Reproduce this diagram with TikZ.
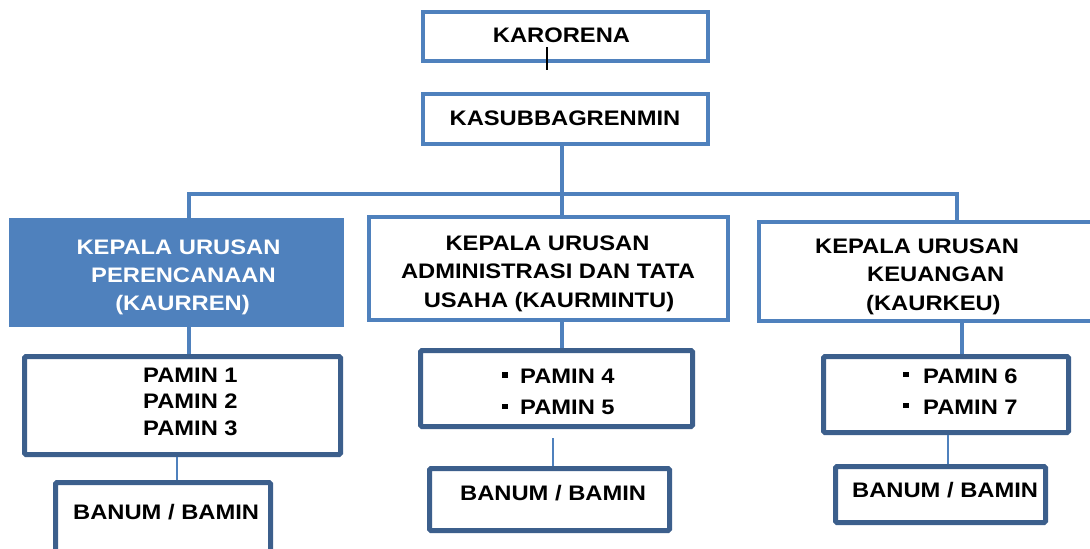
\documentclass[tikz,border=0pt]{standalone}
\usepackage{fontspec}
\setmainfont{Liberation Sans}[FakeStretch=1.13]
\definecolor{lblue}{HTML}{4F81BD}
\definecolor{dblue}{HTML}{3C5F8C}
\tikzset{
  box/.style={draw=lblue, line width=4pt, fill=white, inner sep=0pt},
  pbox/.style={draw=dblue, line width=5pt, fill=white, inner sep=0pt, rounded corners=1.5pt},
  fbox/.style={fill=lblue, inner sep=0pt},
  txt/.style={inner sep=0pt, font=\fontsize{21}{28}\selectfont\bfseries, text=black},
  wtxt/.style={txt, text=white},
  conn/.style={draw=lblue, line width=4pt},
  thin/.style={draw=lblue, line width=2.8pt},
  sq/.style={fill=black, inner sep=0pt, minimum size=5.5pt}
}
\begin{document}
\begin{tikzpicture}[x=1pt, y=-1pt]
\path[use as bounding box, clip] (0,0) rectangle (1090,549);
\fill[white] (0,0) rectangle (1090,549);

% junction coordinates
\coordinate (jl) at (189,194);
\coordinate (jm) at (562,194);
\coordinate (jr) at (957,194);

% boxes
\node[box, minimum width=285pt, minimum height=49pt] (karorena) at (565.5,36.5) {};
\node[box, minimum width=285pt, minimum height=50pt] (kasub) at (565.5,119) {};
\node[fbox, minimum width=335pt, minimum height=109pt] (kaurren) at (176.5,272.5) {};
\node[box, minimum width=359pt, minimum height=103pt] (kaurmintu) at (548.5,268.5) {};
\node[box, minimum width=351pt, minimum height=99pt] (kaurkeu) at (934.5,271.5) {};
\node[pbox, minimum width=316pt, minimum height=98pt] (pamin1) at (182.5,405.5) {};
\node[pbox, minimum width=272pt, minimum height=76pt] (pamin2) at (556.5,388.5) {};
\node[pbox, minimum width=245pt, minimum height=76pt] (pamin3) at (946,394.5) {};
\node[pbox, minimum width=215pt, minimum height=77.5pt] (banum1) at (163,521.25) {};
\node[pbox, minimum width=240pt, minimum height=62pt] (banum2) at (549.5,499.5) {};
\node[pbox, minimum width=210pt, minimum height=56pt] (banum3) at (940.5,494.5) {};

% connectors
\draw[conn] (kasub.south -| jm) -- (jm);
\draw[conn] (kaurren.north -| jl) |- (jr) -- (kaurkeu.north -| jr);
\draw[conn] (jm) -- (kaurmintu.north -| jm);
\draw[conn] (kaurren.south -| jl) -- (pamin1.north -| jl);
\draw[conn] (kaurmintu.south -| jm) -- (pamin2.north -| jm);
\coordinate (kr) at (962,0);
\draw[conn] (kaurkeu.south -| kr) -- (pamin3.north -| kr);
\coordinate (b1) at (177,0);
\coordinate (b2) at (553,0);
\coordinate (b3) at (948,0);
\draw[thin] (pamin1.south -| b1) -- (banum1.north -| b1);
\draw[thin, shorten <=9pt] (pamin2.south -| b2) -- (banum2.north -| b2);
\draw[thin] (pamin3.south -| b3) -- (banum3.north -| b3);

% stray black tick in top box
\coordinate (tk1) at (547,47);
\coordinate (tk2) at (547,70);
\draw[black, line width=1.3pt] (tk1) -- (tk2);

% texts
\node[txt, anchor=base] (t0) at (561.5,42) {KARORENA};
\node[txt, anchor=base] (t1) at (565,125) {KASUBBAGRENMIN};

\node[wtxt, anchor=base] (ta1) at (178.5,254) {KEPALA URUSAN};
\node[wtxt, anchor=base] (ta2) at (183.5,282) {PERENCANAAN};
\node[wtxt, anchor=base] (ta3) at (182.5,310) {(KAURREN)};

\node[txt, anchor=base] (tb1) at (547.5,250) {KEPALA URUSAN};
\node[txt, anchor=base] (tb2) at (548,278) {ADMINISTRASI DAN TATA};
\node[txt, anchor=base] (tb3) at (549,307) {USAHA (KAURMINTU)};

\node[txt, anchor=base west] (tc1) at (815,253) {KEPALA URUSAN};
\node[txt, anchor=base west] (tc2) at (867,281) {KEUANGAN};
\node[txt, anchor=base west] (tc3) at (866,310) {(KAURKEU)};

\node[txt, anchor=base west] (p1) at (143,382) {PAMIN 1};
\node[txt, anchor=base west] (p2) at (143,408) {PAMIN 2};
\node[txt, anchor=base west] (p3) at (143,435) {PAMIN 3};

\node[sq] (s4) at (505,375) {};
\node[sq] (s5) at (505,406.5) {};
\node[txt, anchor=base west] (p4) at (520,383) {PAMIN 4};
\node[txt, anchor=base west] (p5) at (520,414) {PAMIN 5};

\node[sq] (s6) at (906,374.5) {};
\node[sq] (s7) at (906,405.5) {};
\node[txt, anchor=base west] (p6) at (923,383) {PAMIN 6};
\node[txt, anchor=base west] (p7) at (923,414) {PAMIN 7};

\node[txt, anchor=base west] (bn1) at (73,519) {BANUM / BAMIN};
\node[txt, anchor=base west] (bn2) at (460,500) {BANUM / BAMIN};
\node[txt, anchor=base west] (bn3) at (852,497) {BANUM / BAMIN};
\end{tikzpicture}
\end{document}
